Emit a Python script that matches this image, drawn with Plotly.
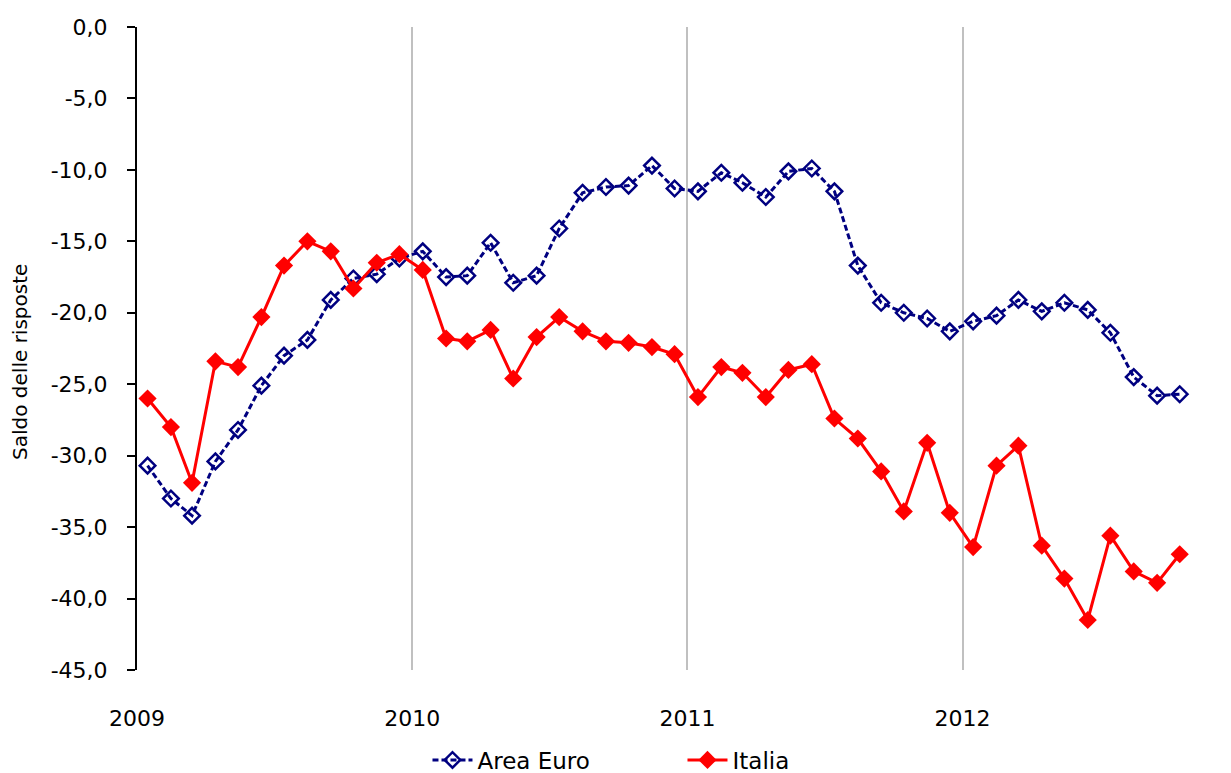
import plotly.graph_objects as go

# monthly observations, Jan 2009 - Oct 2012 (plotted mid-month)
months = [f"{y}-{m:02d}-15" for y in range(2009, 2013) for m in range(1, 13)][:46]

area_euro = [
    -30.7, -33.0, -34.2, -30.4, -28.2, -25.1, -23.0, -21.9, -19.1, -17.6, -17.3, -16.2,
    -15.7, -17.5, -17.4, -15.1, -17.9, -17.4, -14.1, -11.6, -11.2, -11.1, -9.7, -11.3,
    -11.5, -10.2, -10.9, -11.9, -10.1, -9.9, -11.5, -16.7, -19.3, -20.0, -20.4, -21.3,
    -20.6, -20.2, -19.1, -19.9, -19.3, -19.8, -21.4, -24.5, -25.8, -25.7,
]
italia = [
    -26.0, -28.0, -31.9, -23.4, -23.8, -20.3, -16.7, -15.0, -15.7, -18.3, -16.5, -15.9,
    -17.0, -21.8, -22.0, -21.2, -24.6, -21.7, -20.3, -21.3, -22.0, -22.1, -22.4, -22.9,
    -25.9, -23.8, -24.2, -25.9, -24.0, -23.6, -27.4, -28.8, -31.1, -33.9, -29.1, -34.0,
    -36.4, -30.7, -29.3, -36.3, -38.6, -41.5, -35.6, -38.1, -38.9, -36.9,
]

year_ticks = ["2009-01-01", "2010-01-01", "2011-01-01", "2012-01-01"]
year_labels = ["2009", "2010", "2011", "2012"]
y_ticks = [0, -5, -10, -15, -20, -25, -30, -35, -40, -45]
y_labels = ["0,0", "-5,0", "-10,0", "-15,0", "-20,0", "-25,0", "-30,0", "-35,0", "-40,0", "-45,0"]
y_title = "Saldo delle risposte"

FONT = "DejaVu Sans"

fig = go.Figure()

fig.add_trace(go.Scatter(
    x=months, y=area_euro, name="Area Euro", mode="lines+markers",
    line=dict(color="#000080", width=3, dash="6px,3px"),
    marker=dict(symbol="diamond-open", size=12, color="#000080", line=dict(width=2.5, color="#000080")),
))
fig.add_trace(go.Scatter(
    x=months, y=italia, name="Italia", mode="lines+markers",
    line=dict(color="#ff0000", width=3),
    marker=dict(symbol="diamond", size=14, color="#ff0000"),
))

# vertical axis title, left of the tick labels
fig.add_annotation(
    text=y_title, xref="paper", yref="paper", x=-0.107, y=0.479,
    textangle=-90, showarrow=False, xanchor="center", yanchor="middle",
    font=dict(family=FONT, size=20, color="#000000"),
)

# page body adds an 8px offset, so the figure is 8px smaller than the window
fig.update_layout(
    width=1223, height=765,
    margin=dict(l=129, r=0, t=19, b=103, autoexpand=False),
    plot_bgcolor="white", paper_bgcolor="white",
    font=dict(family=FONT, size=22, color="#000000"),
    showlegend=True,
    legend=dict(
        orientation="h", xref="container", yref="container",
        x=0.5515, xanchor="center", y=0.017, yanchor="middle",
        font=dict(family=FONT, size=23, color="#000000"),
        entrywidth=200, itemwidth=40,
    ),
    xaxis=dict(
        type="date", range=["2009-01-01", "2012-12-22"],
        tickvals=year_ticks, ticktext=year_labels,
        showgrid=True, gridcolor="#c0c0c0", gridwidth=2,
        showline=False, zeroline=False, ticks="",
        ticklabelstandoff=33, automargin=False,
    ),
    yaxis=dict(
        range=[-45, 0], tickvals=y_ticks, ticktext=y_labels,
        showgrid=False, zeroline=False,
        showline=True, linecolor="#000000", linewidth=2,
        ticks="outside", ticklen=8, tickwidth=2, tickcolor="#000000",
        ticklabelstandoff=15, automargin=False,
    ),
)

fig.write_html("out.html")
